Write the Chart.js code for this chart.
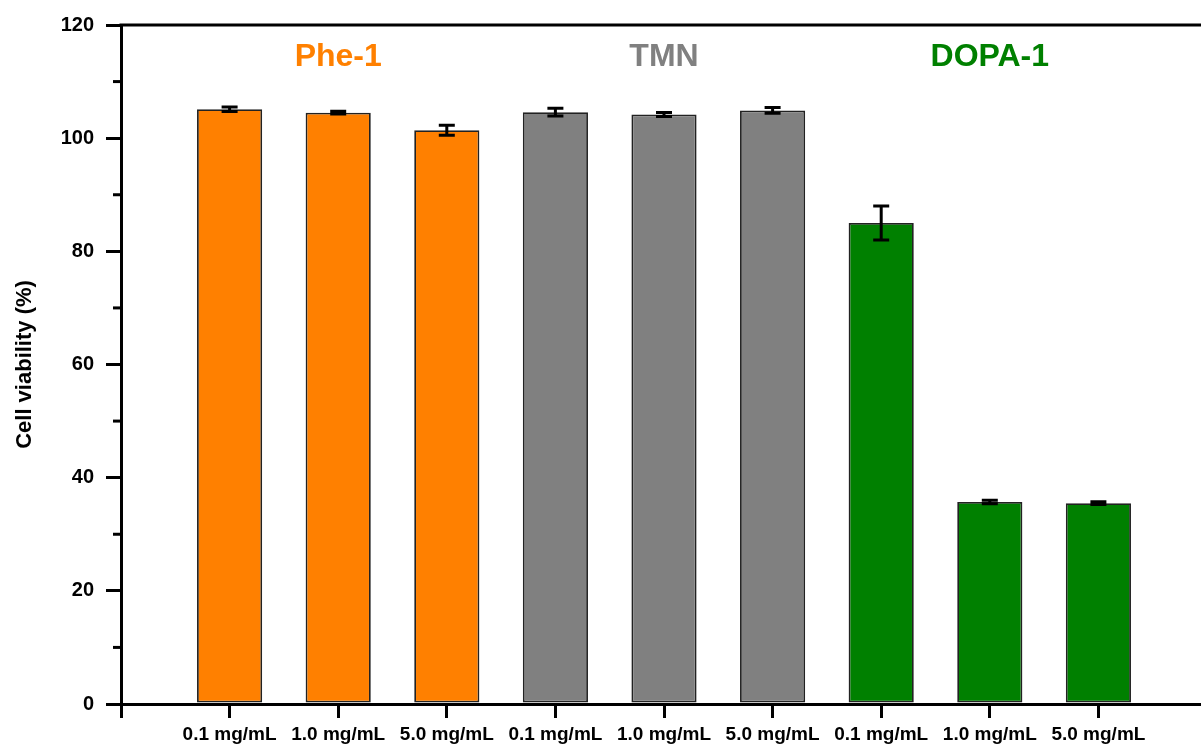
<!DOCTYPE html>
<html>
<head>
<meta charset="utf-8">
<script src="https://cdn.jsdelivr.net/npm/chart.js@4.4.0/dist/chart.umd.min.js"></script>
<style>
  html, body { margin: 0; padding: 0; background: #fff; overflow: hidden; }
  canvas { display: block; }
</style>
</head>
<body>
<canvas id="viabilityChart" width="1212" height="748"></canvas>
<script>
// Données
const concentrations = ['0.1 mg/mL', '1.0 mg/mL', '5.0 mg/mL', '0.1 mg/mL', '1.0 mg/mL', '5.0 mg/mL', '0.1 mg/mL', '1.0 mg/mL', '5.0 mg/mL'];
const viability = [105.1, 104.5, 101.4, 104.6, 104.2, 104.9, 85.0, 35.7, 35.5];
const errors = [0.4, 0.25, 0.9, 0.7, 0.35, 0.5, 3.0, 0.3, 0.25];
const groups = ['Phe-1', 'TMN', 'DOPA-1'];
const groupColors = ['#ff8000', '#808080', '#008000'];
const yTicks = [0, 20, 40, 60, 80, 100, 120];

const FONT = '"Liberation Sans", Arial, sans-serif';

// une case vide de chaque côté pour l'espace avant/après les barres
const labels = [''].concat(concentrations, ['']);
const values = [null].concat(viability, [null]);
const barColors = [null];
viability.forEach((v, i) => barColors.push(groupColors[Math.floor(i / 3)]));
barColors.push(null);

// Barres d'erreur, petites graduations, cadre du haut et noms des groupes
const extrasPlugin = {
  id: 'extras',
  afterDatasetsDraw(chart) {
    const ctx = chart.ctx;
    const x = chart.scales.x;
    const y = chart.scales.y;
    const meta = chart.getDatasetMeta(0);
    ctx.save();
    ctx.strokeStyle = '#000';
    ctx.lineWidth = 3;
    viability.forEach((v, i) => {
      const bar = meta.data[i + 1];
      const yTop = y.getPixelForValue(v + errors[i]);
      const yBot = y.getPixelForValue(v - errors[i]);
      ctx.beginPath();
      ctx.moveTo(bar.x, yTop);
      ctx.lineTo(bar.x, yBot);
      ctx.moveTo(bar.x - 8, yTop);
      ctx.lineTo(bar.x + 8, yTop);
      ctx.moveTo(bar.x - 8, yBot);
      ctx.lineTo(bar.x + 8, yBot);
      ctx.stroke();
    });

    // petites graduations de l'axe Y
    for (let k = 0; k < yTicks.length - 1; k++) {
      const py = y.getPixelForValue((yTicks[k] + yTicks[k + 1]) / 2);
      ctx.beginPath();
      ctx.moveTo(x.left - 8, py);
      ctx.lineTo(x.left, py);
      ctx.stroke();
    }

    // ligne du haut
    ctx.beginPath();
    ctx.moveTo(x.left - 1.5, y.top);
    ctx.lineTo(x.right, y.top);
    ctx.stroke();

    // noms des groupes au-dessus des barres
    ctx.font = 'bold 32px ' + FONT;
    ctx.textAlign = 'center';
    ctx.textBaseline = 'middle';
    groups.forEach((g, k) => {
      ctx.fillStyle = groupColors[k];
      ctx.fillText(g, x.getPixelForValue(k * 3 + 2), y.getPixelForValue(114.3));
    });
    ctx.restore();
  }
};

const ctx = document.getElementById('viabilityChart').getContext('2d');
const viabilityChart = new Chart(ctx, {
  type: 'bar',
  data: {
    labels: labels,
    datasets: [{
      data: values,
      backgroundColor: barColors,
      borderColor: '#222',
      borderWidth: 1.8,
      borderSkipped: false,
      categoryPercentage: 1,
      barPercentage: 0.6,
    }],
  },
  options: {
    responsive: false,
    animation: false,
    layout: { padding: { top: 25, right: 1, left: 0, bottom: 0 } },
    plugins: {
      legend: { display: false },
      tooltip: { enabled: false },
    },
    scales: {
      x: {
        offset: false,
        grid: {
          drawOnChartArea: false,
          color: '#000',
          lineWidth: 3,
          tickLength: 14,
          offset: false,
        },
        border: { color: '#000', width: 3 },
        ticks: {
          color: '#000',
          font: { family: FONT, size: 19, weight: 'bold' },
          maxRotation: 0,
          autoSkip: false,
          padding: 5,
        },
        afterFit(scale) { scale.height = 44; },
      },
      y: {
        min: 0,
        max: 120,
        ticks: {
          stepSize: 20,
          color: '#000',
          font: { family: FONT, size: 20, weight: 'bold' },
          padding: 12,
        },
        grid: {
          drawOnChartArea: false,
          color: '#000',
          lineWidth: 3,
          tickLength: 15,
        },
        border: { color: '#000', width: 3 },
        title: {
          display: true,
          text: 'Cell viability (%)',
          color: '#000',
          font: { family: FONT, size: 22, weight: 'bold' },
          padding: { top: 12, bottom: 0 },
        },
        afterFit(scale) { scale.width = 121; },
      },
    },
  },
  plugins: [extrasPlugin],
});
</script>
</body>
</html>
